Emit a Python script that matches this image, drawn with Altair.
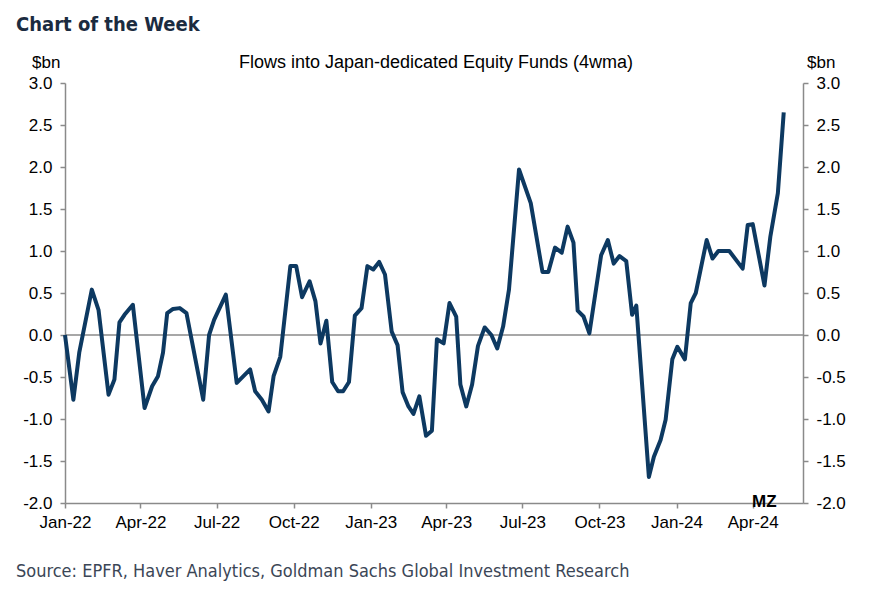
import altair as alt
import pandas as pd

dates = [
    "2022-01-01", "2022-01-11", "2022-01-18", "2022-02-02", "2022-02-10", "2022-02-22",
    "2022-03-01", "2022-03-07", "2022-03-13", "2022-03-23", "2022-04-06", "2022-04-15",
    "2022-04-22", "2022-04-28", "2022-05-03", "2022-05-10", "2022-05-18", "2022-05-26",
    "2022-06-15", "2022-06-22", "2022-06-28", "2022-07-12", "2022-07-25", "2022-08-10",
    "2022-08-16", "2022-08-24", "2022-09-01", "2022-09-07", "2022-09-15", "2022-09-27",
    "2022-10-04", "2022-10-11", "2022-10-20", "2022-10-27", "2022-11-02", "2022-11-09",
    "2022-11-16", "2022-11-23", "2022-11-29", "2022-12-06", "2022-12-13", "2022-12-21",
    "2022-12-28", "2023-01-04", "2023-01-11", "2023-01-18", "2023-01-26", "2023-02-02",
    "2023-02-08", "2023-02-15", "2023-02-21", "2023-02-28", "2023-03-08", "2023-03-15",
    "2023-03-21", "2023-03-29", "2023-04-05", "2023-04-13", "2023-04-18", "2023-04-25",
    "2023-05-02", "2023-05-09", "2023-05-17", "2023-05-25", "2023-06-01", "2023-06-08",
    "2023-06-15", "2023-06-27", "2023-07-11", "2023-07-25", "2023-08-01", "2023-08-09",
    "2023-08-17", "2023-08-24", "2023-08-31", "2023-09-05", "2023-09-12", "2023-09-19",
    "2023-10-03", "2023-10-11", "2023-10-18", "2023-10-25", "2023-11-02", "2023-11-09",
    "2023-11-14", "2023-11-29", "2023-12-05", "2023-12-13", "2023-12-19", "2023-12-27",
    "2024-01-02", "2024-01-11", "2024-01-18", "2024-01-24", "2024-02-06", "2024-02-13",
    "2024-02-20", "2024-03-04", "2024-03-20", "2024-03-26", "2024-04-01", "2024-04-15",
    "2024-04-22", "2024-05-01", "2024-05-08",
]
flows = [
    0.00, -0.77, -0.21, 0.54, 0.30, -0.71,
    -0.53, 0.15, 0.24, 0.36, -0.87, -0.61,
    -0.49, -0.21, 0.26, 0.31, 0.32, 0.26,
    -0.77, 0.00, 0.18, 0.48, -0.57, -0.41,
    -0.67, -0.77, -0.91, -0.49, -0.26, 0.82,
    0.82, 0.45, 0.64, 0.40, -0.10, 0.17,
    -0.56, -0.67, -0.67, -0.56, 0.23, 0.32,
    0.82, 0.78, 0.87, 0.72, 0.04, -0.12,
    -0.68, -0.85, -0.94, -0.73, -1.20, -1.14,
    -0.05, -0.10, 0.38, 0.22, -0.59, -0.85,
    -0.59, -0.13, 0.09, 0.00, -0.16, 0.10,
    0.54, 1.97, 1.57, 0.75, 0.75, 1.04,
    0.98, 1.29, 1.10, 0.29, 0.22, 0.02,
    0.95, 1.13, 0.85, 0.94, 0.88, 0.24,
    0.35, -1.69, -1.45, -1.25, -1.01, -0.29,
    -0.14, -0.29, 0.38, 0.50, 1.13, 0.91,
    1.00, 1.00, 0.79, 1.31, 1.32, 0.59,
    1.17, 1.69, 2.65,
]

tick_months = [(2022, 1), (2022, 4), (2022, 7), (2022, 10), (2023, 1), (2023, 4),
               (2023, 7), (2023, 10), (2024, 1), (2024, 4)]
y_ticks = [-2.0, -1.5, -1.0, -0.5, 0.0, 0.5, 1.0, 1.5, 2.0, 2.5, 3.0]

title_text = "Chart of the Week"
subtitle_text = "Flows into Japan-dedicated Equity Funds (4wma)"
unit_text = "$bn"
mark_text_label = "MZ"
source_text = "Source: EPFR, Haver Analytics, Goldman Sachs Global Investment Research"

df = pd.DataFrame({"date": dates, "flow": flows})
zero_df = pd.DataFrame({"level": [0.0]})

AX_COL = "#8a8a8a"
LINE_COL = "#0d3961"
FONT = "Liberation Sans"
NARROW = "DejaVu Sans Condensed"

xscale = alt.Scale(type="utc",
                   domain=[alt.DateTime(year=2022, month=1, date=1, utc=True),
                           alt.DateTime(year=2024, month=5, date=31, utc=True)])
yscale = alt.Scale(domain=[-2, 3], nice=False, zero=False)
label_expr = "datum.value < 0 ? '-' + format(-datum.value, '.1f') : format(datum.value, '.1f')"

xaxis = alt.Axis(
    values=[alt.DateTime(year=y, month=m, date=1, utc=True) for y, m in tick_months],
    labelExpr="utcFormat(datum.value, '%b-%y')", title=None, grid=False,
    labelFontSize=17, labelPadding=6, tickSize=5, labelFont=FONT,
    labelOverlap=False, labelFlush=False, labelBound=False,
)

zero = alt.Chart(zero_df).mark_rule(color=AX_COL, strokeWidth=1.5).encode(
    y=alt.Y("level:Q", scale=yscale,
            axis=alt.Axis(orient="right", values=y_ticks, labelExpr=label_expr, title=None,
                          grid=False, labelFontSize=17, labelPadding=8, tickSize=5,
                          labelFont=FONT, labelOverlap=False))
)

line = alt.Chart(df).mark_line(color=LINE_COL, strokeWidth=4, strokeJoin="round").encode(
    x=alt.X("date:T", scale=xscale, axis=xaxis),
    y=alt.Y("flow:Q", scale=yscale,
            axis=alt.Axis(orient="left", values=y_ticks, labelExpr=label_expr, title=None,
                          grid=False, labelFontSize=17, labelPadding=8, tickSize=5,
                          labelFont=FONT, labelOverlap=False)),
)

def label(text, x, y, size, weight="normal", align="left", font=FONT, color="#000000"):
    return alt.Chart(pd.DataFrame({"t": [text]})).mark_text(
        align=align, baseline="alphabetic", fontSize=size, fontWeight=weight,
        font=font, color=color,
    ).encode(text="t:N", x=alt.value(x), y=alt.value(y))

texts = [
    label(title_text, -49, -52, 20, weight="bold", font=NARROW, color="#1b2b40"),
    label(unit_text, -33, -15, 17),
    label(subtitle_text, 371, -15, 18, align="center"),
    label(unit_text, 742, -15, 17),
    label(mark_text_label, 687, 424, 17, weight="bold"),
    label(source_text, -49, 494, 18, font=NARROW, color="#3b4656"),
]

chart = alt.layer(zero, line, *texts).resolve_axis(y="independent").properties(
    width=738, height=420,
    autosize=alt.AutoSizeParams(type="none"),
    padding={"left": 57, "top": 75, "right": 70, "bottom": 80},
).configure_view(stroke=None).configure_axis(
    domainColor=AX_COL, tickColor=AX_COL, domainWidth=1.5, tickWidth=1.5,
    labelColor="#000000",
)

chart.save("out.html", embed_options={"renderer": "svg", "actions": False})
